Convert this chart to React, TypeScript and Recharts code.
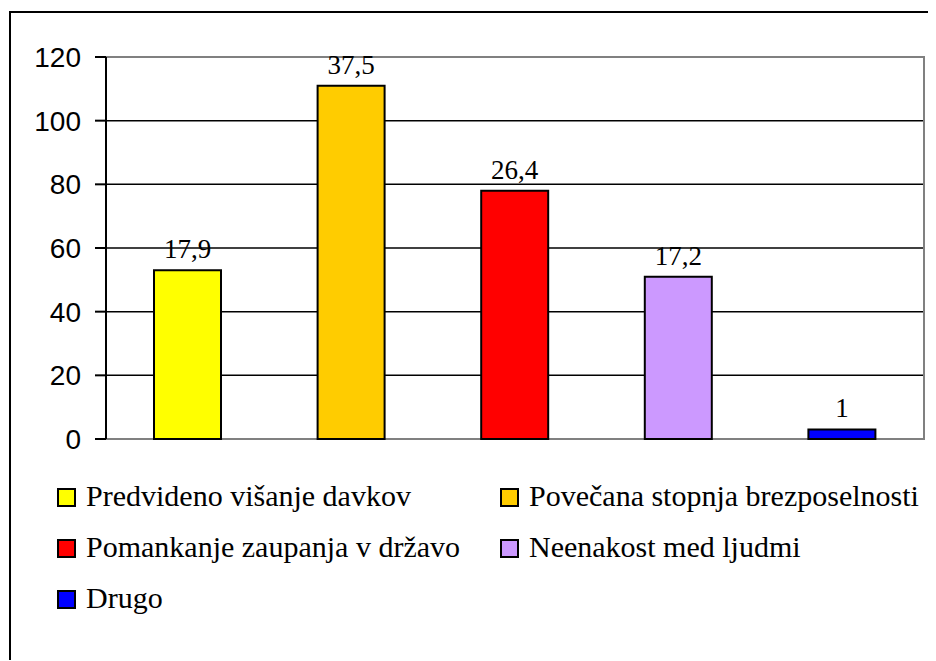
import React from "react";
import {
  BarChart,
  Bar,
  Cell,
  XAxis,
  YAxis,
  CartesianGrid,
  ReferenceArea,
  LabelList,
} from "recharts";

// kategorije in vrednosti
const categories = [
  "Predvideno višanje davkov",
  "Povečana stopnja brezposelnosti",
  "Pomankanje zaupanja v državo",
  "Neenakost med ljudmi",
  "Drugo",
];
const counts = [53, 111, 78, 51, 3];
const percents = [17.9, 37.5, 26.4, 17.2, 1];
const colors = ["#FFFF00", "#FFCC00", "#FF0000", "#CC99FF", "#0000FF"];
const yTicks = [0, 20, 40, 60, 80, 100, 120];

const chartData = categories.map((name, i) => ({
  name,
  value: counts[i],
  pct: percents[i],
}));

const serif = "Liberation Serif";
const sans = "Liberation Sans";

// legenda v dveh stolpcih (kot v Excelu)
function LegendGrid() {
  return (
    <div
      style={{
        position: "absolute",
        left: 49,
        top: 471,
        display: "grid",
        gridTemplateColumns: "443px auto",
        rowGap: 17,
        fontFamily: serif,
        fontSize: 30,
        color: "#000",
      }}
    >
      {categories.map((c, i) => (
        <div key={c} style={{ display: "flex", alignItems: "center", height: 34, whiteSpace: "nowrap" }}>
          <span
            style={{
              display: "inline-block",
              width: 15,
              height: 15,
              background: colors[i],
              border: "2px solid #000",
              marginRight: 10,
              marginTop: 2,
            }}
          />
          <span>{c}</span>
        </div>
      ))}
    </div>
  );
}

export default function App() {
  return (
    <div style={{ width: 927, height: 652, overflow: "hidden", position: "relative" }}>
      <div
        style={{
          position: "absolute",
          left: 1,
          top: 3,
          width: 1000,
          height: 700,
          border: "2px solid #000",
          boxSizing: "border-box",
        }}
      />
      <div style={{ position: "absolute", left: 0, top: 0 }}>
        <BarChart
          width={927}
          height={652}
          data={chartData}
          margin={{ top: 49, right: 11, left: 8, bottom: 221 }}
        >
          <ReferenceArea y1={0} y2={120} stroke="#808080" strokeWidth={2} fill="none" ifOverflow="visible" />
          <CartesianGrid
            vertical={false}
            horizontalValues={[20, 40, 60, 80, 100]}
            stroke="#000"
            strokeWidth={1.5}
          />
          <XAxis dataKey="name" tick={false} tickLine={false} axisLine={{ stroke: "#808080", strokeWidth: 2 }} height={0} />
          <YAxis
            domain={[0, 120]}
            ticks={yTicks}
            width={90}
            interval={0}
            tickSize={11}
            tickMargin={14}
            axisLine={{ stroke: "#000", strokeWidth: 2 }}
            tickLine={{ stroke: "#000", strokeWidth: 2 }}
            tick={{ fill: "#000", fontSize: 28, fontFamily: sans }}
          />
          <Bar dataKey="value" barSize={67} stroke="#000" strokeWidth={2} isAnimationActive={false}>
            {chartData.map((d, i) => (
              <Cell key={d.name} fill={colors[i]} />
            ))}
            <LabelList
              dataKey="pct"
              position="top"
              offset={12}
              formatter={(v: any) => String(v).replace(".", ",")}
              style={{ fill: "#000", fontSize: 27, fontFamily: serif }}
            />
          </Bar>
        </BarChart>
      </div>
      <LegendGrid />
    </div>
  );
}
